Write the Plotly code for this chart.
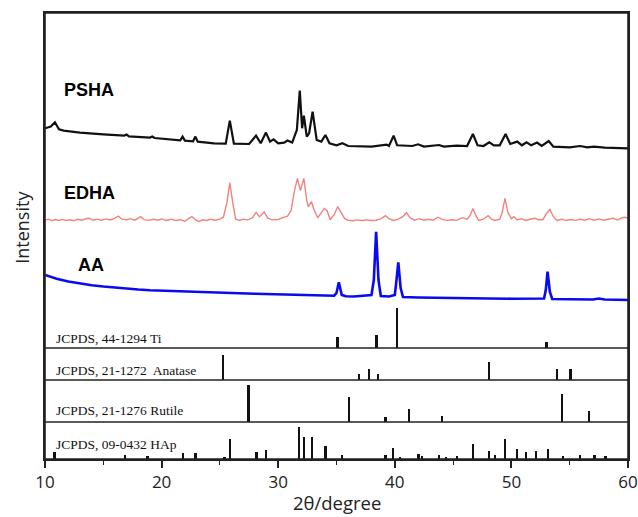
import plotly.graph_objects as go

# ---------------- data ----------------
psha_x = [10.0, 10.5, 10.85, 11.2, 11.6, 13, 15, 16.8, 17.0, 17.2, 19, 19.2, 19.4, 21, 21.6, 21.8, 22.0,
          22.7, 22.9, 23.1, 24.5, 25.5, 25.85, 26.2, 27.5, 28.1, 28.5, 28.95, 29.3, 29.6, 30.0, 30.5, 30.8,
          31.2, 31.6, 31.85, 32.05, 32.2, 32.45, 32.65, 32.95, 33.3, 33.7, 34.05, 34.4, 35.0, 35.5, 36, 38,
          39.3, 39.5, 39.9, 40.2, 41.5, 42.0, 42.5, 43.8, 44.2, 45.3, 46.2, 46.7, 47.1, 47.6, 48.1, 48.5,
          49.0, 49.5, 49.9, 50.5, 50.9, 51.3, 51.7, 52.2, 52.6, 53.2, 53.6, 55.0, 55.9, 56.5, 57.1, 58.0, 60]
psha_y = [20.0, 21.7, 26, 19, 17.7, 15.7, 14, 12.7, 13.7, 12, 10.7, 11.7, 10.3, 8.3, 8, 11.7, 7.7,
          7, 11.7, 6.7, 5, 4.7, 27.7, 4.7, 4.3, 12.7, 5, 15.7, 6.7, 9, 5, 5.7, 7.7,
          5.7, 18.3, 57.7, 20, 32.7, 11.7, 15, 36.7, 8.3, 6.7, 13.3, 5, 3, 5, 2.3, 1.7,
          3.7, 2.3, 12.7, 3, 2.3, 4, 1.7, 3.3, 1.7, 2.7, 2.3, 14.3, 3, 2.3, 6, 3,
          3, 14.3, 4.3, 6.7, 3, 6, 3, 5.7, 2.3, 7.3, 1.7, 1, 2.3, 1, 1.7, 0.7, 0]

edha_x = [10.0, 10.3, 10.6, 10.9, 11.2, 11.5, 11.8, 12.1, 12.5, 12.8, 13.2, 13.5, 13.8, 14.1, 14.5, 14.8,
          15.2, 15.6, 16.0, 16.3, 16.6, 17.0, 17.3, 17.7, 18.0, 18.2, 18.5, 18.9, 19.3, 19.7, 20.0, 20.4,
          20.8, 21.2, 21.6, 22.0, 22.3, 22.6, 22.9, 23.2, 23.5, 23.9, 24.2, 24.6, 25.0, 25.3, 25.6, 25.85,
          26.1, 26.35, 26.7, 27.0, 27.4, 27.8, 28.1, 28.4, 28.8, 29.1, 29.5, 30.0, 30.4, 30.8, 31.1, 31.4,
          31.65, 31.9, 32.2, 32.45, 32.6, 32.85, 33.1, 33.4, 33.7, 33.95, 34.2, 34.45, 34.8, 35.1, 35.4,
          35.7, 36.0, 36.4, 36.8, 37.2, 37.6, 38.0, 38.4, 38.8, 39.2, 39.5, 39.9, 40.3, 40.7, 41.0, 41.3,
          41.7, 42.1, 42.5, 42.9, 43.3, 43.7, 44.1, 44.5, 44.9, 45.3, 45.8, 46.2, 46.45, 46.7, 46.95, 47.2,
          47.6, 48.0, 48.3, 48.6, 49.0, 49.2, 49.45, 49.7, 50.0, 50.2, 50.5, 50.9, 51.2, 51.6, 52.0, 52.3,
          52.7, 53.0, 53.3, 53.6, 53.9, 54.3, 54.7, 55.1, 55.5, 55.9, 56.3, 56.7, 57.1, 57.5, 57.9, 58.3,
          58.7, 59.1, 59.5, 59.8, 60.0]
edha_y = [0.5, 1.5, 0, 1.2, 0.3, 1.3, 0.2, 1.0, 0, 1.5, 0.5, 2.0, 2.5, 0.5, 1.5, 0.3,
          1.8, 0.8, 2.5, 4.5, 1.5, 1.0, 2.0, 0.5, 2.5, 4.0, 1.0, 0.3, 1.5, 0.5, 1.8, 0.3,
          1.5, 0.2, 1.0, -0.5, 2.0, 4.0, 1.0, -1.0, 1.0, 0.2, 1.5, 0.5, 1.5, 3.5, 18, 38,
          18, 1.5, 0.3, 1.5, 0.8, 3.0, 8.3, 4.0, 8.7, 2.5, 0.8, 1.2, 3.0, 4.5, 10, 30,
          42.3, 30, 42.3, 20, 14, 19, 10, 3, 8, 12.3, 10, 1.0, 6, 14, 8,
          2, 0.5, 0, 0.8, 0.2, 0.8, 0.2, 0.5, 1.8, 5, 2.0, 0.3, 1.5, 4.0, 8.0, 3.0,
          0.5, 2.0, 0.5, 1.5, 0.5, 3.5, 1.0, 0.3, 1.0, 0.3, 3.0, 1.5, 5, 12.3, 5, 0.3,
          1.5, 5, 1.5, 0.3, 1.5, 8, 22.3, 8, 2, 4, 1.0, 2.0, 0.3, 1.5, 2.5, 1.0,
          1.0, 7, 11.3, 4, 0.3, 1.5, 0.2, 1.2, 0.3, 1.5, 0.5, 2.0, 0.5, 1.8, 0.5, 1.5,
          2.5, 0.8, 3.0, 3.5, 2.0]

aa_x = [10.0, 10.5, 11, 12, 13, 14, 15, 16, 17, 18, 19, 20, 22, 24, 26, 28, 30, 32, 34, 34.8, 35.0,
        35.2, 35.45, 35.8, 36.5, 37.2, 37.6, 38.0, 38.2, 38.4, 38.6, 38.8, 39.5, 40.0, 40.1, 40.3, 40.5,
        40.7, 42, 44, 46, 48, 50, 52, 52.8, 52.95, 53.1, 53.3, 53.5, 55, 57, 57.5, 58, 60]
aa_y = [25, 23, 21.3, 18.5, 16.5, 14.8, 13.5, 12.3, 11.3, 10.5, 9.8, 9.3, 8.3, 7.6, 7.0, 6.3, 5.7, 5.0, 4.5, 4.3, 7,
        17.7, 5, 3.7, 3.5, 4, 5, 5, 20, 68.3, 20, 4.0, 3.5, 5, 15, 37.7, 12,
        3, 2.5, 2.0, 1.8, 1.5, 1.3, 1.0, 1.5, 10, 28.3, 8, 1, 0.7, 0.5, 1.5, 0.5, 0]

ti_pos = [35.09, 38.42, 40.17, 53.0]
ti_int = [27, 32, 100, 15]
anatase_pos = [25.28, 36.95, 37.80, 38.57, 48.05, 53.89, 55.06]
anatase_int = [100, 24, 44, 24, 71, 43, 43]
rutile_pos = [27.45, 36.09, 39.19, 41.23, 44.05, 54.32, 56.64]
rutile_int = [100, 68, 14, 36, 17, 76, 30]
hap_pos = [10.82, 16.84, 18.78, 21.82, 22.90, 25.38, 25.88, 28.13, 28.97, 31.77, 32.20, 32.90, 34.05,
           35.48, 39.20, 39.82, 40.45, 42.03, 42.32, 43.80, 44.37, 45.31, 46.71, 48.10, 48.62, 49.47,
           50.49, 51.28, 52.10, 53.14, 54.44, 55.88, 57.13, 58.07]
hap_int = [21, 12, 10, 19, 19, 5, 62, 21, 29, 100, 69, 69, 42,
           12, 12, 33, 6, 17, 10, 12, 5, 10, 47, 25, 12, 62,
           31, 21, 26, 31, 8, 12, 12, 8]

series_names = ["PSHA", "EDHA", "AA"]
ref_labels = ["JCPDS, 44-1294 Ti", "JCPDS, 21-1272  Anatase", "JCPDS, 21-1276 Rutile", "JCPDS, 09-0432 HAp"]
x_ticks = [10, 20, 30, 40, 50, 60]

# ---------------- layout / style ----------------
W, H = 638, 517
ML, MR, MT, MB = 45, 10, 13, 58
YMAX = H - MT - MB  # one y unit == one pixel

offsets = {"PSHA": 310.7, "EDHA": 238.3, "AA": 159}
colors = {"PSHA": "#111111", "EDHA": "#f28282", "AA": "#0a0af0"}
widths = {"PSHA": 2.2, "EDHA": 1.4, "AA": 2.6}
label_pos = {"PSHA": (11.5, 369), "EDHA": (11.5, 266), "AA": (12.7, 194)}

panels = [  # base, height of a 100 % stick, label y
    (ti_pos, ti_int, 111, 40, 121),
    (anatase_pos, anatase_int, 79, 25, 89),
    (rutile_pos, rutile_int, 37, 36.7, 49),
    (hap_pos, hap_int, 0, 32, 15),
]

fig = go.Figure()
for name, xs, ys in zip(series_names, [psha_x, edha_x, aa_x], [psha_y, edha_y, aa_y]):
    fig.add_trace(go.Scatter(x=xs, y=[v + offsets[name] for v in ys], mode="lines",
                             line=dict(color=colors[name], width=widths[name]),
                             showlegend=False, hoverinfo="skip"))

for (pos, inten, base, hmax, _), lab in zip(panels, ref_labels):
    fig.add_trace(go.Bar(x=pos, y=[v * hmax / 100 for v in inten], base=base, width=0.2,
                         marker=dict(color="#111111", line=dict(width=0)),
                         showlegend=False, hoverinfo="skip"))

shapes = []
for (_, _, base, _, _) in panels[:3]:
    shapes.append(dict(type="line", xref="paper", x0=0, x1=1, yref="y", y0=base, y1=base,
                       line=dict(color="#222222", width=1.6)))
shapes.append(dict(type="rect", xref="paper", yref="paper", x0=0, x1=1, y0=0, y1=1,
                   line=dict(color="#222222", width=1.6), layer="above"))

annotations = []
for name in series_names:
    x, y = label_pos[name]
    annotations.append(dict(x=x, y=y, xref="x", yref="y", text=name, showarrow=False,
                            xanchor="left", yanchor="middle",
                            font=dict(family="Liberation Sans, Arial", size=18, color="black",
                                      weight="bold")))
for (_, _, _, _, ly), lab in zip(panels, ref_labels):
    annotations.append(dict(x=10.75, y=ly, xref="x", yref="y", text=lab.replace("  ", "&nbsp; "),
                            showarrow=False, xanchor="left", yanchor="middle",
                            font=dict(family="Liberation Serif, Times New Roman", size=13.5,
                                      color="#111111")))
annotations.append(dict(x=-0.04, y=0.52, xref="paper", yref="paper", text="Intensity", textangle=-90,
                        showarrow=False, xanchor="center", yanchor="middle",
                        font=dict(family="Open Sans", size=18, color="#222222")))
annotations.append(dict(x=0.5, y=-0.098, xref="paper", yref="paper", text="2θ/degree",
                        showarrow=False, xanchor="center", yanchor="middle",
                        font=dict(family="Open Sans", size=18.5, color="#222222")))

fig.update_layout(
    width=W, height=H, margin=dict(l=ML, r=MR, t=MT, b=MB, autoexpand=False),
    paper_bgcolor="white", plot_bgcolor="white", barmode="overlay", bargap=0,
    shapes=shapes, annotations=annotations,
    xaxis=dict(range=[10, 60], tickvals=x_ticks, ticktext=[str(v) for v in x_ticks],
               automargin=False,
               ticks="outside", ticklen=7, tickwidth=1.5, tickcolor="#222222",
               minor=dict(ticks="outside", ticklen=4, tickwidth=1.3, dtick=5, tick0=10,
                          tickcolor="#222222"),
               showline=True, linecolor="#222222", linewidth=1.6, mirror=True,
               showgrid=False, zeroline=False,
               tickfont=dict(family="Open Sans", size=17, color="#222222")),
    yaxis=dict(range=[0, YMAX], showticklabels=False, ticks="", showgrid=False, zeroline=False,
               automargin=False,
               showline=True, linecolor="#222222", linewidth=1.6, mirror=True),
)

fig.write_html("out.html", config={"displayModeBar": False},
               post_script="document.body.style.margin='0';document.body.style.overflow='hidden';")
